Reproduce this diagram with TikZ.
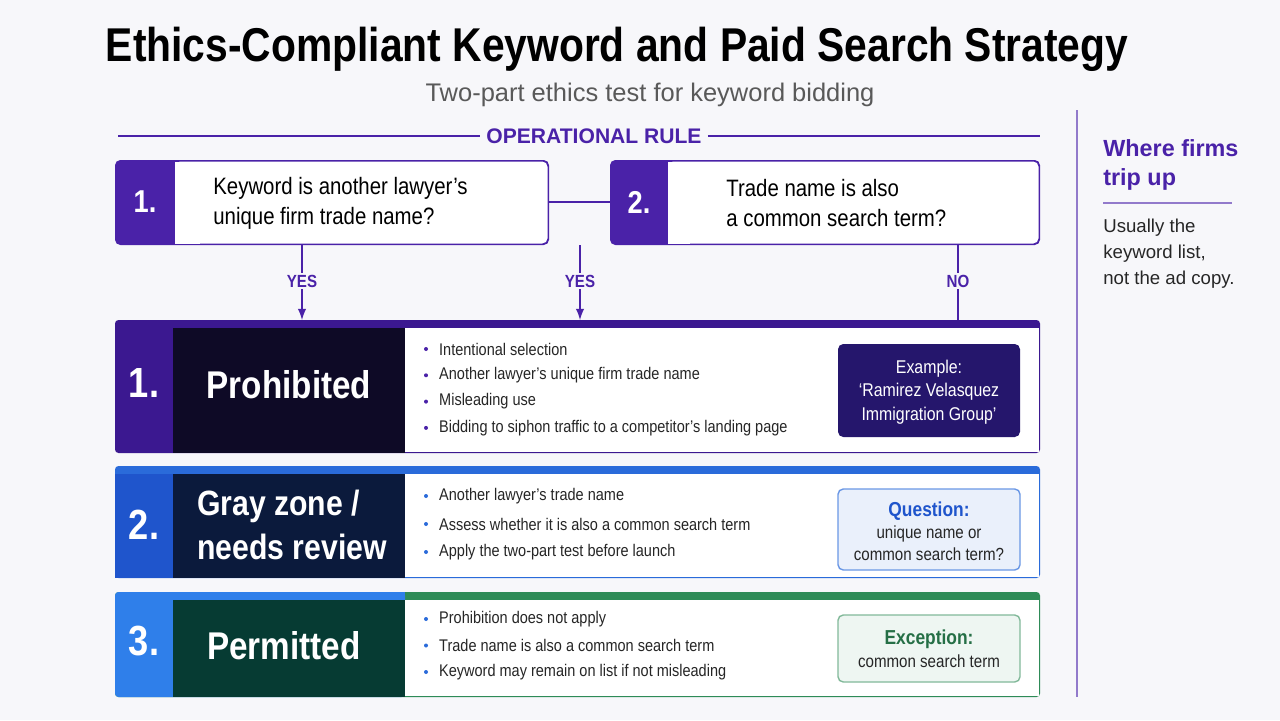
\documentclass[tikz,border=0pt]{standalone}
\usepackage{fontspec}
\setmainfont{Liberation Sans}[FakeStretch=0.86]
\newfontfamily\titlefont{Liberation Sans}[FakeStretch=0.86]
\newfontfamily\subfont{Liberation Sans}
\begin{document}
\begin{tikzpicture}[x=0.02cm,y=-0.02cm,
  qtxt/.style={anchor=west,align=left,font=\fontsize{13.5}{17}\selectfont,text=black,inner sep=0},
  bul/.style={anchor=west,font=\fontsize{9.6}{11}\selectfont,text=black!85},
  lbl/.style={font=\bfseries\fontsize{10}{12}\selectfont,text=purpleA,fill=bgc,inner sep=1pt},
  arr/.style={draw=purpleA,line width=1.2pt},
  num/.style={font=\bfseries\fontsize{18}{20}\selectfont,text=white},
  big/.style={font=\bfseries\fontsize{20}{20}\selectfont,text=white,align=left}]
\definecolor{purpleA}{HTML}{4A22A8}
\definecolor{bgc}{HTML}{F7F7FA}
\definecolor{dk1}{HTML}{0E0A26}
\definecolor{tab1}{HTML}{3B1890}
\definecolor{ex1}{HTML}{25166C}
\definecolor{tab2}{HTML}{1F55CC}
\definecolor{dk2}{HTML}{0B1A3C}
\definecolor{str2}{HTML}{2A6BDA}
\definecolor{tab3}{HTML}{2F7FEA}
\definecolor{dk3}{HTML}{063B33}
\definecolor{grn}{HTML}{2E8B57}
\fill[bgc] (0,0) rectangle (1280,720);
\useasboundingbox (0,0) rectangle (1280,720);
% title
\node[font=\titlefont\bfseries\fontsize{27}{30}\selectfont] (title) at (617,49) {Ethics-Compliant Keyword and Paid Search Strategy};
\node[font=\subfont\fontsize{14.5}{16}\selectfont,text=black!65] (sub) at (650,95) {Two-part ethics test for keyword bidding};
\node[font=\subfont\bfseries\fontsize{12}{14}\selectfont,text=purpleA] (op) at (594,136) {OPERATIONAL RULE};
\draw[purpleA,line width=1pt] (118,136) -- (op.west) (op.east) -- (1040,136);
% question boxes
\draw[purpleA,line width=1pt] (549,202) -- (610,202);
\fill[purpleA,rounded corners=3pt] (115,160) rectangle (549,245);
\fill[white,rounded corners=3pt] (175,161.5) rectangle (547.5,243.5);
\fill[white] (175,161.5) rectangle (200,243.5);
\node[num] (n1) at (145,202) {1.};
\node[qtxt] (q1) at (213,203) {Keyword is another lawyer’s\\unique firm trade name?};
\fill[purpleA,rounded corners=3pt] (610,160) rectangle (1040,245);
\fill[white,rounded corners=3pt] (668,161.5) rectangle (1038.5,243.5);
\fill[white] (668,161.5) rectangle (690,243.5);
\node[num] (n2) at (639,202) {2.};
\node[qtxt] (q2) at (726,203) {Trade name is also\\a common search term?};
% arrows
\coordinate (a1s) at (302,245); \coordinate (a1e) at (302,320);
\coordinate (a2s) at (580,245); \coordinate (a2e) at (580,320);
\coordinate (a3s) at (958,245); \coordinate (a3e) at (958,322);
\draw[arr,-latex] (a1s) -- (a1e); \draw[arr,-latex] (a2s) -- (a2e); \draw[arr] (a3s) -- (a3e);
\node[lbl] at (302,281) {YES}; \node[lbl] at (580,281) {YES}; \node[lbl] at (958,281) {NO};
% band 1
\fill[tab1,rounded corners=2pt] (115,320) rectangle (1040,453);
\fill[white] (405,328) rectangle (1038.5,451.5);
\fill[dk1] (173,328) rectangle (405,453);
\node[num,font=\bfseries\fontsize{24}{26}\selectfont] at (144,383) {1.};
\node[big,font=\bfseries\fontsize{22}{26}\selectfont] at (289,385) {Prohibited};
\foreach \t [count=\i] in {Intentional selection,Another lawyer’s unique firm trade name,Misleading use,Bidding to siphon traffic to a competitor’s landing page}{
  \fill[purpleA] (426,{349+26.3*(\i-1)}) circle (2);
  \node[bul] at (433,{349+26.3*(\i-1)}) {\t};}
\fill[ex1,rounded corners=3pt] (838,344) rectangle (1020,437);
\node[align=center,text=white,font=\fontsize{10.5}{13.5}\selectfont] at (929,392) {Example:\\‘Ramirez Velasquez\\Immigration Group’};
% band 2
\fill[str2,rounded corners=2pt] (115,466) rectangle (1040,578);
\fill[tab2] (115,474) rectangle (173,578);
\fill[white] (405,474) rectangle (1038.5,576.5);
\fill[dk2] (173,474) rectangle (405,578);
\node[num,font=\bfseries\fontsize{24}{26}\selectfont] at (144,525) {2.};
\node[big,font=\bfseries\fontsize{20}{25}\selectfont] at (292,525) {Gray zone /\\needs review};
\foreach \t [count=\i] in {Another lawyer’s trade name,Assess whether it is also a common search term,Apply the two-part test before launch}{
  \fill[str2] (426,{496+28*(\i-1)}) circle (2);
  \node[bul] at (433,{496+28*(\i-1)}) {\t};}
\draw[str2!70,fill=str2!10,rounded corners=3pt,line width=0.8pt] (838,489) rectangle (1020,570);
\node[align=center,text=black!85,font=\fontsize{10}{12.5}\selectfont] at (929,531) {{\bfseries\fontsize{11.5}{13}\selectfont\color{tab2}Question:}\\unique name or\\common search term?};
% band 3
\fill[grn,rounded corners=2pt] (115,592) rectangle (1040,697);
\fill[tab3,rounded corners=2pt] (115,592) rectangle (405,697);
\fill[tab3] (300,592) rectangle (405,600);
\fill[white] (405,600) rectangle (1038.5,695.5);
\fill[dk3] (173,600) rectangle (405,697);
\node[num,font=\bfseries\fontsize{24}{26}\selectfont] at (144,641) {3.};
\node[big,font=\bfseries\fontsize{22}{26}\selectfont] at (284,646) {Permitted};
\foreach \t [count=\i] in {Prohibition does not apply,Trade name is also a common search term,Keyword may remain on list if not misleading}{
  \fill[str2] (426,{619+26.5*(\i-1)}) circle (2);
  \node[bul] at (433,{619+26.5*(\i-1)}) {\t};}
\draw[grn!60,fill=grn!8,rounded corners=3pt,line width=0.8pt] (838,615) rectangle (1020,682);
\node[align=center,text=black!85,font=\fontsize{10}{13}\selectfont] at (929,649) {{\bfseries\fontsize{11.5}{13}\selectfont\color{grn!80!black}Exception:}\\common search term};
% sidebar
\draw[purpleA!60,line width=0.8pt] (1077,110) -- (1077,697);
\node[anchor=north west,align=left,text=purpleA,font=\subfont\bfseries\fontsize{13.3}{16.5}\selectfont,inner sep=0] at (1103,139) {Where firms\\trip up};
\draw[purpleA!60,line width=0.8pt] (1103,203) -- (1232,203);
\node[anchor=north west,align=left,text=black!85,font=\subfont\fontsize{10.6}{14.8}\selectfont,inner sep=0] at (1103,219) {Usually the\\keyword list,\\not the ad copy.};
\end{tikzpicture}
\end{document}
